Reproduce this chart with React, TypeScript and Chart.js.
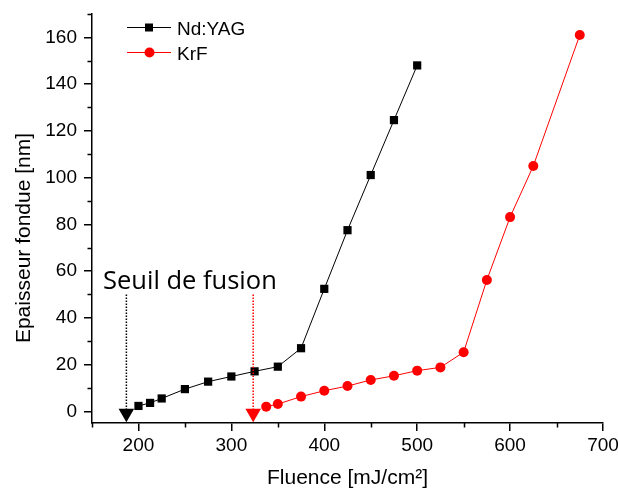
import React, { useEffect, useRef } from 'react';
import { Chart, registerables } from 'chart.js';

Chart.register(...registerables);

// ---- Data ----
const seriesLabels = ['Nd:YAG', 'KrF'];
const ndYagFluence = [200, 212.5, 225, 250, 275, 300, 325, 350, 375, 400, 425, 450, 475, 500];
const ndYagThickness = [2.3, 3.6, 5.5, 9.5, 12.7, 14.9, 17.1, 19.1, 27.0, 52.4, 77.5, 101.1, 124.6, 148.0];
const krfFluence = [337.5, 350, 375, 400, 425, 450, 475, 500, 525, 550, 575, 600, 625, 675];
const krfThickness = [2.0, 3.1, 6.3, 8.8, 10.8, 13.4, 15.2, 17.4, 18.8, 25.3, 56.2, 83.1, 105.0, 161.0];
const thresholdFluence = [187, 323.5];
const thresholdTop = 50;
const thresholdBottom = -0.8;
const annotationText = 'Seuil de fusion';
const xTitle = 'Fluence [mJ/cm²]';
const yTitle = 'Epaisseur fondue [nm]';
const yMajorTicks = [0, 20, 40, 60, 80, 100, 120, 140, 160];
const yMinorTicks = [10, 30, 50, 70, 90, 110, 130, 150, 170];
const xMajorTicks = [200, 300, 400, 500, 600, 700];
const xMinorTicks = [150, 250, 350, 450, 550, 650];

const RED = '#ff0000';
const BLACK = '#000000';

const toPoints = (xs: number[], ys: number[]) => xs.map((x, i) => ({ x, y: ys[i] }));

const decorPlugin = {
  id: 'decor',
  afterDraw(chart: any) {
    const { ctx, chartArea, scales } = chart;
    const xs = scales.x;
    const ys = scales.y;
    ctx.save();
    // minor ticks
    ctx.strokeStyle = BLACK;
    ctx.lineWidth = 1.5;
    ctx.beginPath();
    xMinorTicks.forEach((v) => {
      const px = Math.round(xs.getPixelForValue(v)) + 0.5;
      ctx.moveTo(px, chartArea.bottom);
      ctx.lineTo(px, chartArea.bottom + 4.5);
    });
    yMinorTicks.forEach((v) => {
      const py = Math.round(ys.getPixelForValue(v)) + 0.5;
      ctx.moveTo(chartArea.left, py);
      ctx.lineTo(chartArea.left - 4.5, py);
    });
    ctx.stroke();

    // y title
    ctx.save();
    ctx.translate(24, 238);
    ctx.rotate(-Math.PI / 2);
    ctx.font = '21px "Liberation Sans", Arial, sans-serif';
    ctx.fillStyle = BLACK;
    ctx.textAlign = 'center';
    ctx.textBaseline = 'middle';
    ctx.fillText(yTitle, 0, 0);
    ctx.restore();

    // annotation text
    ctx.font = '25.5px "Open Sans", "Noto Sans", sans-serif';
    ctx.fillStyle = BLACK;
    ctx.textAlign = 'left';
    ctx.textBaseline = 'alphabetic';
    ctx.fillText(annotationText, 103, 288.5);

    // legend
    const legendColors = [BLACK, RED];
    legendColors.forEach((c, i) => {
      const y = 27 + i * 25;
      ctx.strokeStyle = c;
      ctx.lineWidth = 1;
      ctx.beginPath();
      ctx.moveTo(127, y + 0.5);
      ctx.lineTo(171, y + 0.5);
      ctx.stroke();
      ctx.fillStyle = c;
      if (i === 0) {
        ctx.fillRect(145, y - 3.5, 8, 8);
      } else {
        ctx.beginPath();
        ctx.arc(149.5, y + 0.5, 5, 0, Math.PI * 2);
        ctx.fill();
      }
      ctx.fillStyle = BLACK;
      ctx.font = '19px "Liberation Sans", Arial, sans-serif';
      ctx.textAlign = 'left';
      ctx.textBaseline = 'alphabetic';
      ctx.fillText(seriesLabels[i], 177, y + 7.5);
    });
    ctx.restore();
  },
};

export default function App() {
  const canvasRef = useRef<HTMLCanvasElement | null>(null);

  useEffect(() => {
    document.body.style.margin = '0';
    const canvas = canvasRef.current;
    if (!canvas) return;
    const tickFont = { family: '"Liberation Sans", Arial, sans-serif', size: 19 };
    const chart = new Chart(canvas, {
      type: 'scatter',
      data: {
        datasets: [
          {
            label: 'thresholdNd',
            data: [
              { x: thresholdFluence[0], y: thresholdTop },
              { x: thresholdFluence[0], y: thresholdBottom },
            ],
            showLine: true,
            borderColor: BLACK,
            backgroundColor: BLACK,
            borderWidth: 1.5,
            borderDash: [1.5, 1.5],
            pointRadius: [0, 9],
            pointStyle: 'triangle',
            pointRotation: 180,
            pointBorderWidth: 0,
            order: 0,
          } as any,
          {
            label: 'thresholdKrF',
            data: [
              { x: thresholdFluence[1], y: thresholdTop },
              { x: thresholdFluence[1], y: thresholdBottom },
            ],
            showLine: true,
            borderColor: RED,
            backgroundColor: RED,
            borderWidth: 1.5,
            borderDash: [1.5, 1.5],
            pointRadius: [0, 9],
            pointStyle: 'triangle',
            pointRotation: 180,
            pointBorderWidth: 0,
            order: 0,
          } as any,
          {
            label: seriesLabels[0],
            data: toPoints(ndYagFluence, ndYagThickness),
            showLine: true,
            borderColor: BLACK,
            backgroundColor: BLACK,
            borderWidth: 1,
            pointStyle: 'rect',
            pointRadius: 5.8,
            pointBorderWidth: 0,
            order: 1,
          },
          {
            label: seriesLabels[1],
            data: toPoints(krfFluence, krfThickness),
            showLine: true,
            borderColor: RED,
            backgroundColor: RED,
            borderWidth: 1,
            pointStyle: 'circle',
            pointRadius: 5,
            pointBorderWidth: 0,
            order: 2,
          },
        ],
      },
      options: {
        animation: false,
        responsive: false,
        events: [],
        layout: { padding: { top: 14, right: 15, left: 0, bottom: 0 } },
        plugins: {
          legend: { display: false },
          tooltip: { enabled: false },
        },
        scales: {
          x: {
            type: 'linear',
            min: 150,
            max: 700,
            afterBuildTicks: (s: any) => {
              s.ticks = xMajorTicks.map((v) => ({ value: v }));
            },
            afterFit: (s: any) => {
              s.height = 68;
              s.paddingLeft = 0;
              s.paddingRight = 0;
              s.paddingTop = 0;
              s.paddingBottom = 0;
            },
            ticks: {
              color: BLACK,
              font: tickFont,
              padding: 3,
              maxRotation: 0,
              autoSkip: false,
              callback: (v: any) => String(v),
            },
            grid: {
              drawOnChartArea: false,
              drawTicks: true,
              tickLength: 8,
              color: BLACK,
              lineWidth: 1.5,
            },
            border: { display: true, color: BLACK, width: 1.5 },
            title: {
              display: true,
              text: xTitle,
              color: BLACK,
              font: { family: '"Liberation Sans", Arial, sans-serif', size: 21 },
              padding: { top: 0, bottom: 0.5 },
            },
          },
          y: {
            type: 'linear',
            min: -5,
            max: 170,
            afterBuildTicks: (s: any) => {
              s.ticks = yMajorTicks.map((v) => ({ value: v }));
            },
            afterFit: (s: any) => {
              s.width = 92;
              s.paddingLeft = 0;
              s.paddingRight = 0;
              s.paddingTop = 0;
              s.paddingBottom = 0;
            },
            ticks: {
              color: BLACK,
              font: tickFont,
              padding: 7,
              autoSkip: false,
              callback: (v: any) => String(v),
            },
            grid: {
              drawOnChartArea: false,
              drawTicks: true,
              tickLength: 8,
              color: BLACK,
              lineWidth: 1.5,
            },
            border: { display: true, color: BLACK, width: 1.5 },
          },
        },
      },
      plugins: [decorPlugin],
    });
    return () => chart.destroy();
  }, []);

  return (
    <div style={{ width: 618, height: 491, background: '#fff' }}>
      <canvas ref={canvasRef} width={618} height={491} />
    </div>
  );
}
